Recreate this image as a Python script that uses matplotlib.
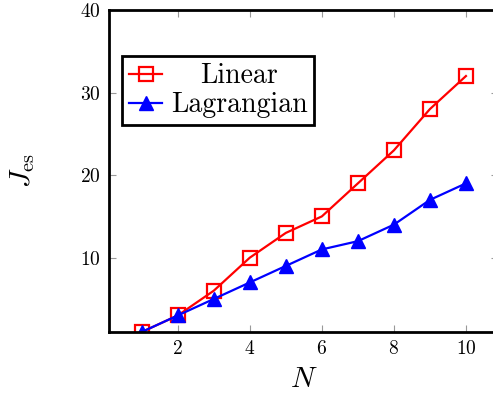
import matplotlib
matplotlib.use("Agg")
import matplotlib.pyplot as plt

plt.rcParams['font.family'] = 'serif'
plt.rcParams['font.serif'] = ['cmr10']
plt.rcParams['mathtext.fontset'] = 'cm'
plt.rcParams['axes.formatter.use_mathtext'] = True

N = [1, 2, 3, 4, 5, 6, 7, 8, 9, 10]
linear = [1, 3, 6, 10, 13, 15, 19, 23, 28, 32]
lagrangian = [1, 3, 5, 7, 9, 11, 12, 14, 17, 19]

fig = plt.figure(figsize=(4.93, 4.01), dpi=100)
ax = fig.add_axes([0.2217, 0.1721, 0.7892, 0.803])

ax.plot(N, linear, color='red', lw=1.6, marker='s', ms=9.5, mfc='none',
        mec='red', mew=1.6, label='Linear')
ax.plot(N, lagrangian, color='blue', lw=1.6, marker='^', ms=10.5,
        mfc='blue', mec='blue', label='Lagrangian')

ax.set_xlim(0.1, 10.9)
ax.set_ylim(1, 40)
ax.set_xticks([2, 4, 6, 8, 10])
ax.set_yticks([10, 20, 30, 40])
ax.tick_params(direction='in', top=True, right=True, length=5, width=0.8,
               color='0.6', labelsize=14, pad=6)
for s in ax.spines.values():
    s.set_linewidth(2.0)

ax.set_xlabel('$N$', fontsize=21, labelpad=6)
ax.set_ylabel(r'$J_{\mathrm{es}}$', fontsize=21, labelpad=31)

leg = ax.legend(loc='upper left', bbox_to_anchor=(0.033, 0.857), fontsize=20,
                frameon=True, fancybox=False, edgecolor='black',
                handlelength=1.2, handletextpad=0.3, borderpad=0.25,
                labelspacing=0.1, borderaxespad=0)
leg.get_frame().set_linewidth(2.0)
leg.get_frame().set_alpha(1)

# center the shorter label like pgfplots does
renderer = fig.canvas.get_renderer()
texts = leg.get_texts()
widths = [t.get_window_extent(renderer).width for t in texts]
wmax = max(widths)
for t, w in zip(texts, widths):
    t.set_x((wmax - w) / 2)

fig.savefig('out.png', dpi=100)
